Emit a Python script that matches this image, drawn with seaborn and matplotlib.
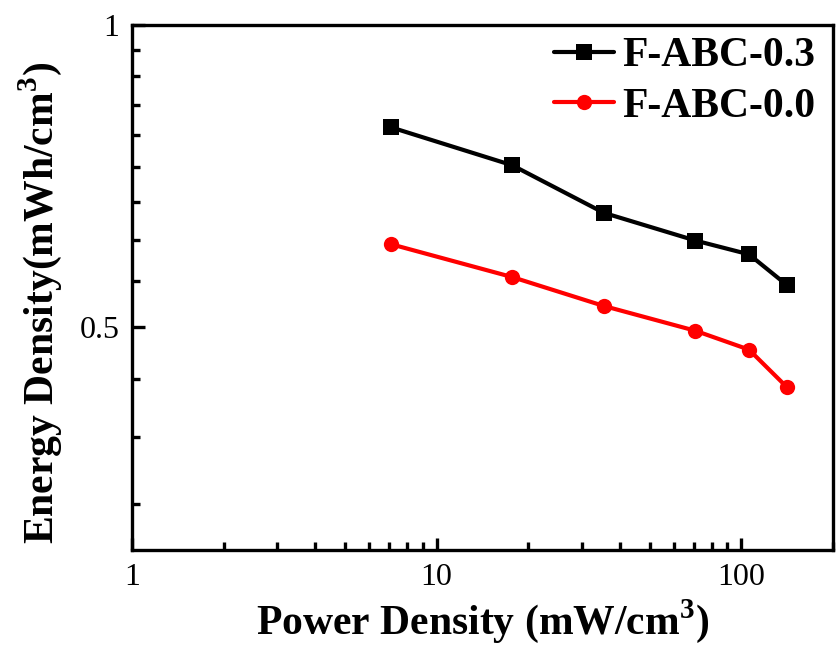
import matplotlib
matplotlib.use("Agg")
import matplotlib.pyplot as plt
import matplotlib.ticker as mticker
import seaborn as sns
import numpy as np
import pandas as pd

# values (log-log axes)
power_density = [7.07, 17.7, 35.4, 70.7, 106, 141]
energy_abc03 = [0.791, 0.725, 0.650, 0.610, 0.591, 0.551]
energy_abc00 = [0.605, 0.561, 0.525, 0.496, 0.475, 0.436]
series_names = ["F-ABC-0.3", "F-ABC-0.0"]

df = pd.DataFrame({
    "power": power_density * 2,
    "energy": energy_abc03 + energy_abc00,
    "sample": [series_names[0]] * len(power_density) + [series_names[1]] * len(power_density),
})

sns.set_style("ticks")
plt.rcParams["font.family"] = ["Liberation Serif", "DejaVu Serif"]
plt.rcParams["mathtext.fontset"] = "custom"
plt.rcParams["mathtext.rm"] = "Liberation Serif"
plt.rcParams["mathtext.bf"] = "Liberation Serif:bold"
plt.rcParams["text.color"] = "black"
plt.rcParams["axes.labelcolor"] = "black"

fig = plt.figure(figsize=(8.37, 6.48), dpi=100)
ax = fig.add_axes([0.1577, 0.1512, 0.8375, 0.8102])

sns.lineplot(data=df, x="power", y="energy", hue="sample", style="sample",
             hue_order=series_names, style_order=series_names,
             palette={"F-ABC-0.3": "black", "F-ABC-0.0": "#ff0000"},
             markers={"F-ABC-0.3": "s", "F-ABC-0.0": "o"}, dashes=False,
             linewidth=3, markersize=11, markeredgewidth=0, ax=ax)

ax.set_xscale("log")
ax.set_yscale("log")
ax.set_xlim(1, 200)
ax.set_ylim(0.3, 1)

ax.xaxis.set_major_locator(mticker.FixedLocator([1, 10, 100]))
ax.xaxis.set_major_formatter(mticker.FixedFormatter(["1", "10", "100"]))
ax.xaxis.set_minor_locator(mticker.LogLocator(base=10, subs=np.arange(2, 10)))
ax.xaxis.set_minor_formatter(mticker.NullFormatter())

ax.yaxis.set_major_locator(mticker.FixedLocator([0.5, 1]))
ax.yaxis.set_major_formatter(mticker.FixedFormatter(["0.5", "1"]))
ax.yaxis.set_minor_locator(mticker.FixedLocator([k / 18 for k in range(6, 18) if k != 9]))
ax.yaxis.set_minor_formatter(mticker.NullFormatter())

ax.tick_params(which="both", direction="in", width=2.4, labelsize=23, pad=9,
               top=False, right=False, colors="black", labelcolor="black")
ax.tick_params(which="major", length=9)
ax.tick_params(which="minor", length=6)
for sp in ax.spines.values():
    sp.set_linewidth(2.4)
    sp.set_color("black")

ax.set_xlabel("Power Density (mW/cm$^{\\mathbf{3}}$)", fontsize=30, fontweight="bold", labelpad=4)
ax.set_ylabel("Energy Density(mWh/cm$^{\\mathbf{3}}$)", fontsize=30, fontweight="bold")
ax.yaxis.set_label_coords(-0.097, 0.47)

leg = ax.legend(loc="upper right", bbox_to_anchor=(1.005, 1.017), frameon=False,
                handlelength=1.45, handletextpad=0.2, labelspacing=0.3,
                borderaxespad=0.1, prop={"size": 30, "weight": "bold"})

fig.savefig("out.png", dpi=100)
